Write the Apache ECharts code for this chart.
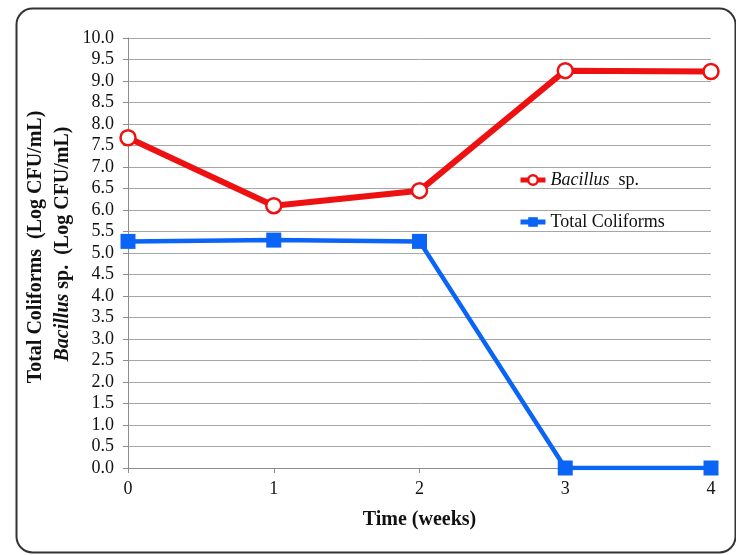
<!DOCTYPE html>
<html><head><meta charset="utf-8">
<script src="https://cdn.jsdelivr.net/npm/echarts@6/dist/echarts.min.js"></script>
<style>html,body{margin:0;padding:0;background:#fff}#c{width:736px;height:555px}</style>
</head><body><div id="c"></div>
<script>
var weeks = ['0','1','2','3','4'];
var bacillus = [7.68, 6.10, 6.45, 9.24, 9.22];
var coliforms = [5.27, 5.30, 5.27, 0.0, 0.0];
var seriesNames = ['Bacillus sp.', 'Total Coliforms'];
var xTitle = 'Time (weeks)';
var yTitle1 = 'Total Coliforms  (Log CFU/mL)';
var yTitle2 = '{bi|Bacillus}{b| sp.  (Log CFU/mL)}';

var font = '"Liberation Serif", "Times New Roman", serif';
var red = '#ee1111', blue = '#0a64f5';
var chart = echarts.init(document.getElementById('c'), null, {renderer:'canvas'});
chart.setOption({
  animation: false,
  backgroundColor: '#fff',
  textStyle: {fontFamily: font},
  grid: {left: 128, right: 25, top: 38, bottom: 87, containLabel: false},
  xAxis: {
    type: 'category', data: weeks, boundaryGap: false,
    axisLine: {lineStyle: {color: '#8c8c8c', width: 1}},
    axisTick: {show: true, alignWithLabel: true, length: 5, lineStyle: {color: '#8c8c8c'}},
    axisLabel: {color: '#111', fontSize: 18, fontFamily: font, margin: 12},
    name: xTitle, nameLocation: 'middle', nameGap: 42,
    nameTextStyle: {color: '#111', fontSize: 20, fontWeight: 'bold', fontFamily: font}
  },
  yAxis: {
    type: 'value', min: 0, max: 10, interval: 0.5,
    axisLine: {show: true, lineStyle: {color: '#8c8c8c', width: 1}},
    axisTick: {show: true, inside: false, length: 5, lineStyle: {color: '#8c8c8c'}},
    axisLabel: {color: '#111', fontSize: 18, fontFamily: font, margin: 14,
      formatter: function(v){ return v.toFixed(1); }},
    splitLine: {show: true, lineStyle: {color: '#a6a6a6', width: 1}}
  },
  legend: {
    orient: 'vertical', left: 513, top: 166, itemGap: 24,
    itemWidth: 25, itemHeight: 12,
    data: [
      {name: seriesNames[0], lineStyle: {width: 5}, itemStyle: {borderWidth: 2.5}},
      {name: seriesNames[1], lineStyle: {width: 5}}
    ],
    textStyle: {color: '#111', fontSize: 18, fontFamily: font,
      rich: {i: {fontStyle: 'italic', fontSize: 18, fontFamily: font, color: '#111'}}},
    formatter: function(n){
      if (n === seriesNames[0]) return '{i|Bacillus}  sp.';
      return n;
    }
  },
  series: [
    {name: seriesNames[0], type: 'line', data: bacillus,
     symbol: 'circle', symbolSize: 15,
     lineStyle: {color: red, width: 6},
     itemStyle: {color: '#fff', borderColor: red, borderWidth: 2.5},
     z: 3},
    {name: seriesNames[1], type: 'line', data: coliforms,
     symbol: 'rect', symbolSize: 15,
     lineStyle: {color: blue, width: 4.5},
     itemStyle: {color: blue, borderColor: blue, borderWidth: 0},
     z: 2}
  ],
  graphic: [
    {type: 'rect', left: 14, top: 6, z: 100,
     shape: {x: 0, y: 0, width: 719, height: 544, r: 16},
     style: {fill: 'none', stroke: '#333', lineWidth: 2}},
    {type: 'text', x: 36, y: 247, rotation: Math.PI/2,
     style: {text: yTitle1, fill: '#111', font: 'bold 20px ' + font,
       textAlign: 'center', textVerticalAlign: 'middle'}},
    {type: 'text', x: 63, y: 244, rotation: Math.PI/2,
     style: {text: yTitle2, fill: '#111', textAlign: 'center', textVerticalAlign: 'middle',
       rich: {
         bi: {fontStyle: 'italic', fontWeight: 'bold', fontSize: 20, fontFamily: font, fill: '#111'},
         b: {fontWeight: 'bold', fontSize: 20, fontFamily: font, fill: '#111'}
       }}}
  ]
});
</script>
</body></html>
